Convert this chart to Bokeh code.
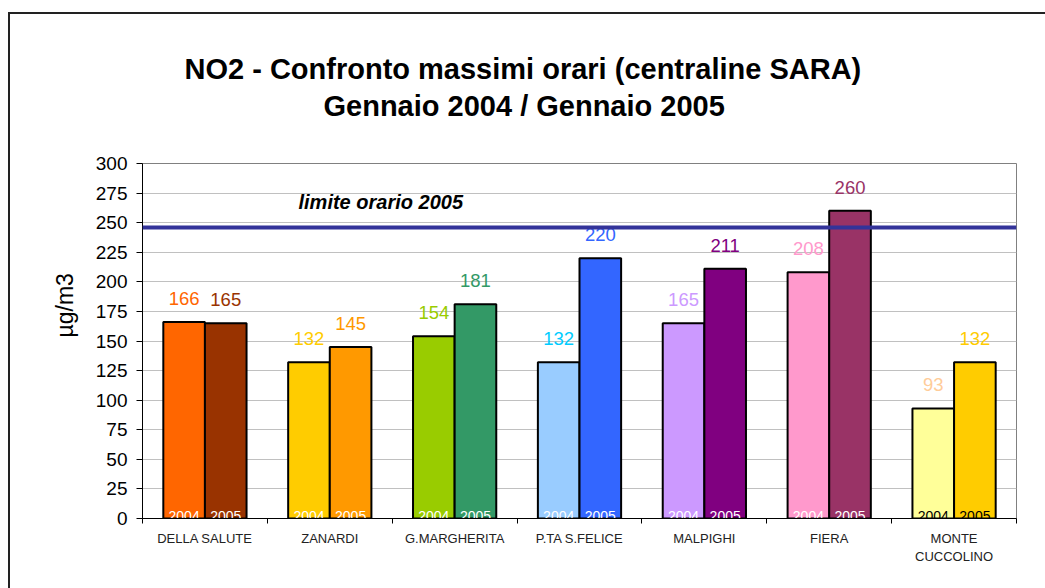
from bokeh.plotting import figure
from bokeh.models import (ColumnDataSource, Range1d, FixedTicker, Span, Label, Title)
from bokeh.embed import file_html
from bokeh.resources import INLINE
from bokeh.core.properties import value

# ---------------- data ----------------
categories = ["DELLA SALUTE", "ZANARDI", "G.MARGHERITA", "P.TA S.FELICE",
              "MALPIGHI", "FIERA", "MONTE\nCUCCOLINO"]
years = ["2004", "2005"]
v2004 = [166, 132, 154, 132, 165, 208, 93]
v2005 = [165, 145, 181, 220, 211, 260, 132]
limit_value = 246
y_ticks = [0, 25, 50, 75, 100, 125, 150, 175, 200, 225, 250, 275, 300]

bar2004 = ["#FF6600", "#FFCC00", "#99CC00", "#99CCFF", "#CC99FF", "#FF99CC", "#FFFF99"]
bar2005 = ["#993300", "#FF9900", "#339966", "#3366FF", "#800080", "#993366", "#FFCC00"]
lab2004 = ["#FF6600", "#FFCC00", "#99CC00", "#00CCFF", "#CC99FF", "#FF99CC", "#FFCC99"]
lab2005 = ["#993300", "#FF9900", "#339966", "#3366FF", "#800080", "#993366", "#FFCC00"]
year_col = ["white", "white", "white", "white", "white", "white", "black"]

FONT = "Liberation Sans"

# ---------------- layout ----------------
W, H = 1045, 588
ML, MR, MT, MB = 142, 29, 163, 70
frame_w = W - ML - MR
frame_h = H - MT - MB
n = len(categories)
ppx = frame_w / n        # px per category
ppy = frame_h / 300.0    # px per y unit

def dx(cx):  # canvas x -> data x
    return (cx - ML) / ppx

def dy(cy):  # canvas y -> data y
    return (MT + frame_h - cy) / ppy

p = figure(width=W, height=H, output_backend="svg", toolbar_location=None,
           x_range=Range1d(0, n), y_range=Range1d(0, 300),
           min_border_left=ML, min_border_right=MR, min_border_top=MT,
           min_border_bottom=MB)
p.outline_line_color = "#808080"
p.outline_line_width = 1
p.background_fill_color = "white"
p.border_fill_color = None
# outer chart border (left and top edges visible in the window)
p.styles = {
    "background-color": "white",
    "background-image": "linear-gradient(#222,#222), linear-gradient(#222,#222)",
    "background-position": "8px 12px, 8px 12px",
    "background-size": "2px 100%, 100% 2px",
    "background-repeat": "no-repeat",
}

# titles: first line is the plot title (outer), second line sits closer to the plot
p.title.text = "NO2 - Confronto massimi orari (centraline SARA)"
p.title.text_font = FONT
p.title.text_font_size = "29px"
p.title.text_font_style = "bold"
p.title.text_color = "black"
p.title.align = "left"
p.title.offset = 42
p.title.standoff = 4
# empty spacer between plot frame and the second title line
p.add_layout(Title(text=" ", text_font=FONT, text_font_size="10px",
                   align="left", offset=0, standoff=28), "above")
p.add_layout(Title(text="Gennaio 2004 / Gennaio 2005",
                   text_font=FONT, text_font_size="29px", text_font_style="bold",
                   text_color="black", align="left", offset=181, standoff=2), "above")

centers = [i + 0.5 for i in range(n)]
x04 = [c - 1 / 6 for c in centers]
x05 = [c + 1 / 6 for c in centers]

src04 = ColumnDataSource(dict(x=x04, top=v2004, fill=bar2004, lab=[str(v) for v in v2004],
                              labc=lab2004, ly=[v + 23.5 / ppy for v in v2004],
                              yr=[years[0]] * n, yc=year_col))
src05 = ColumnDataSource(dict(x=x05, top=v2005, fill=bar2005, lab=[str(v) for v in v2005],
                              labc=lab2005, ly=[v + 23.5 / ppy for v in v2005],
                              yr=[years[1]] * n, yc=year_col))

for src in (src04, src05):
    p.vbar(x="x", top="top", bottom=0, width=1 / 3, source=src,
           fill_color="fill", line_color="black", line_width=2)
    p.text(x="x", y="ly", text="lab", source=src, text_color="labc",
           text_font=value(FONT), text_font_size="18.5px",
           text_align="center", text_baseline="middle")
    p.text(x="x", y=3 / ppy, text="yr", source=src, text_color="yc",
           text_font=value(FONT), text_font_size="14px",
           text_align="center", text_baseline="alphabetic")

# limit line
p.add_layout(Span(location=limit_value, dimension="width", line_color="#333399",
                  line_width=4))
p.add_layout(Label(x=dx(298), y=dy(201), text="limite orario 2005",
                   text_font=FONT, text_font_size="20px", text_font_style="bold italic",
                   text_color="black", text_align="left", text_baseline="middle"))

# axes
p.xgrid.grid_line_color = None
p.ygrid.grid_line_color = "#c0c0c0"
p.ygrid.grid_line_width = 1

p.yaxis.ticker = FixedTicker(ticks=y_ticks, minor_ticks=[])
p.yaxis.major_label_text_font = FONT
p.yaxis.major_label_text_font_size = "19px"
p.yaxis.major_label_text_color = "black"
p.yaxis.major_tick_in = 0
p.yaxis.major_tick_out = 6
p.yaxis.major_label_standoff = 9
p.yaxis.axis_line_color = "black"
p.yaxis.major_tick_line_color = "black"

# y axis title
p.add_layout(Title(text="µg/m3", text_font=FONT, text_font_size="23px",
                   text_font_style="normal", text_color="black",
                   align="left", offset=181, standoff=30), "left")

p.xaxis.ticker = FixedTicker(ticks=centers, minor_ticks=list(range(n + 1)))
p.xaxis.major_label_overrides = {c: cat for c, cat in zip(centers, categories)}
p.xaxis.major_label_text_font = FONT
p.xaxis.major_label_text_font_size = "13px"
p.xaxis.major_label_text_color = "#222222"
p.xaxis.major_tick_in = 0
p.xaxis.major_tick_out = 0
p.xaxis.major_tick_line_color = None
p.xaxis.minor_tick_in = 0
p.xaxis.minor_tick_out = 5
p.xaxis.minor_tick_line_color = "black"
p.xaxis.major_label_standoff = 7
p.xaxis.axis_line_color = "black"

open("out.html", "w").write(file_html(p, INLINE))
